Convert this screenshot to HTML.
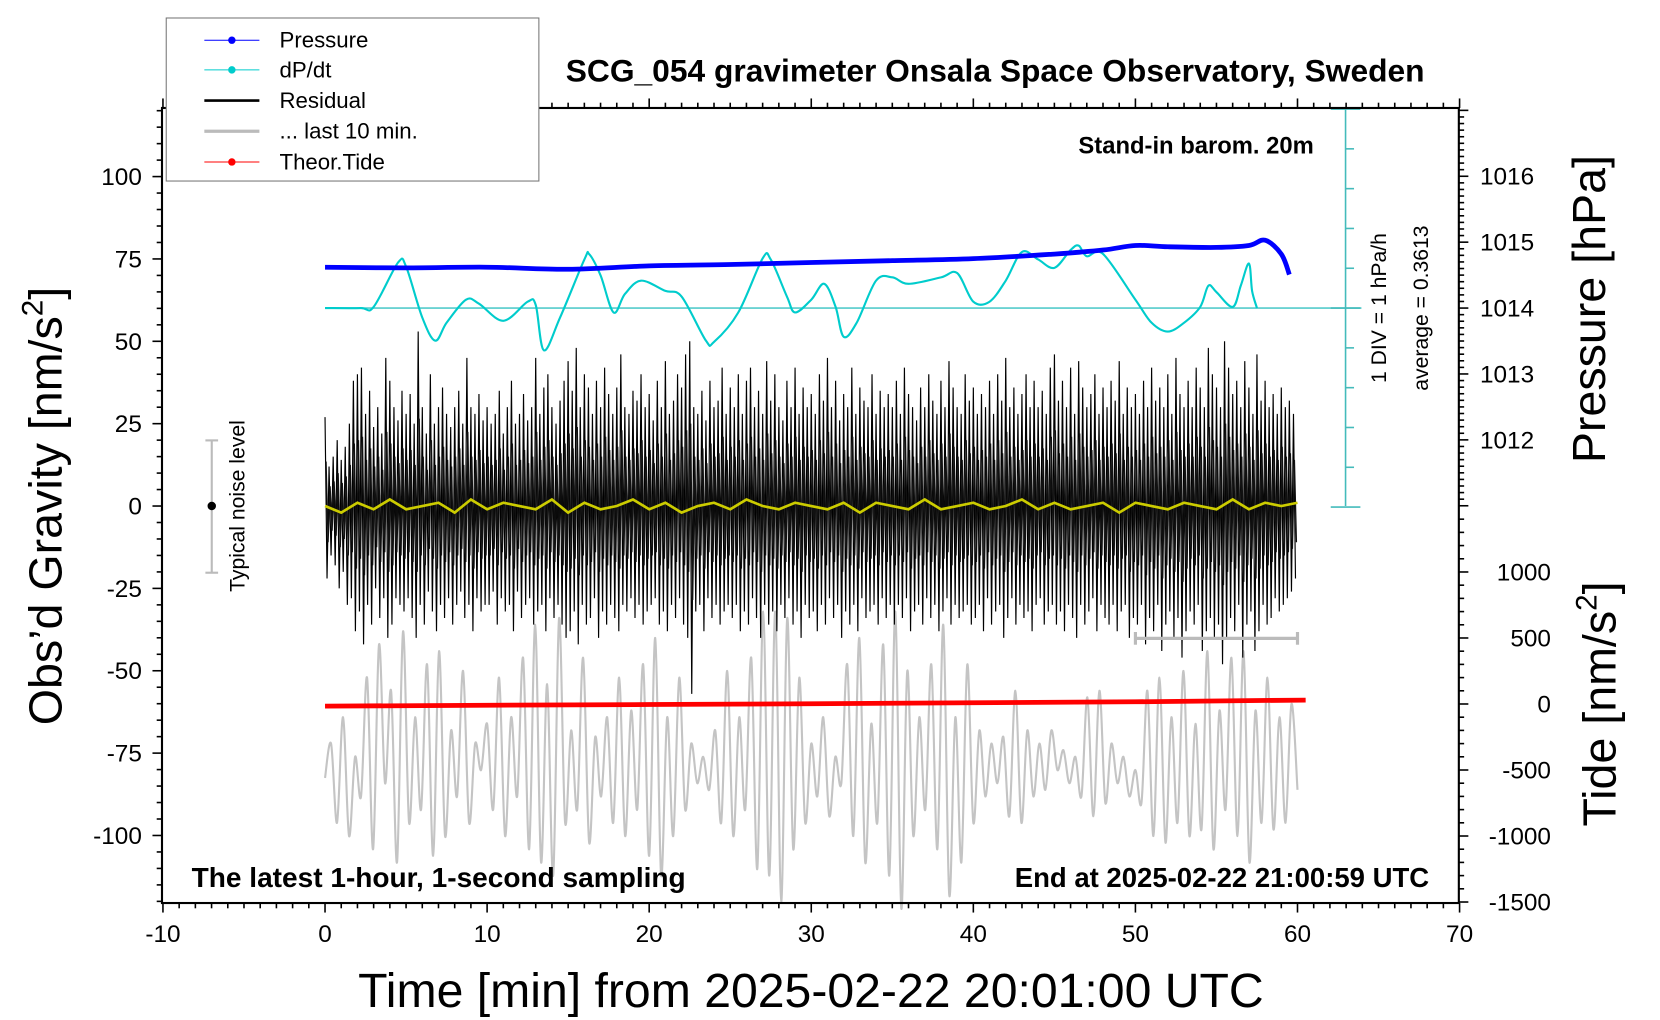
<!DOCTYPE html>
<html><head><meta charset="utf-8"><style>
html,body{margin:0;padding:0;background:#fff;}
svg{display:block;font-family:"Liberation Sans",Arial,sans-serif;}
</style></head><body>
<svg id="chart" width="1660" height="1020" viewBox="0 0 1568 963.5" xmlns="http://www.w3.org/2000/svg">
<rect x="0" y="0" width="1568" height="963.5" fill="#fff"/>
<g id="marks"></g>
<rect x="153" y="102" width="1225" height="751" fill="none" stroke="#000" stroke-width="2"/>
<g id="ticks"></g>
<text x="940" y="77" font-size="30" font-weight="bold" text-anchor="middle">SCG_054 gravimeter Onsala Space Observatory, Sweden</text>
<text x="1241" y="145" font-size="22.5" font-weight="bold" text-anchor="end">Stand-in barom. 20m</text>
<text x="181" y="838" font-size="26.5" font-weight="bold">The latest 1-hour, 1-second sampling</text>
<text x="1350" y="838" font-size="26" font-weight="bold" text-anchor="end">End at 2025-02-22 21:00:59 UTC</text>
<text x="766" y="951" font-size="45.5" text-anchor="middle">Time [min] from 2025-02-22 20:01:00 UTC</text>
<text transform="translate(58,478) rotate(-90)" font-size="44" text-anchor="middle">Obs’d Gravity [nm/s<tspan font-size="28" dy="-18">2</tspan><tspan dy="18">]</tspan></text>
<text transform="translate(1516,292) rotate(-90)" font-size="44" text-anchor="middle">Pressure [hPa]</text>
<text transform="translate(1526,665) rotate(-90)" font-size="44" text-anchor="middle">Tide [nm/s<tspan font-size="28" dy="-18">2</tspan><tspan dy="18">]</tspan></text>
<text transform="translate(1309,291) rotate(-90)" font-size="20" text-anchor="middle">1 DIV = 1 hPa/h</text>
<text transform="translate(1349,291) rotate(-90)" font-size="20" text-anchor="middle">average = 0.3613</text>
<g>
<line x1="200" y1="416" x2="200" y2="541" stroke="#bbb" stroke-width="2"/>
<line x1="194" y1="416" x2="206" y2="416" stroke="#bbb" stroke-width="2"/>
<line x1="194" y1="541" x2="206" y2="541" stroke="#bbb" stroke-width="2"/>
<circle cx="200" cy="478" r="4" fill="#000"/>
<text transform="translate(231,478) rotate(-90)" font-size="20" text-anchor="middle">Typical noise level</text>
</g>
<g>
<rect x="157" y="17" width="352" height="154" fill="#fff" stroke="#777" stroke-width="1"/>
<g><line x1="193" y1="38" x2="245" y2="38" stroke="#00f" stroke-width="1"/><circle cx="219" cy="38" r="3.5" fill="#00f"/><text x="264" y="45" font-size="21">Pressure</text></g>
<g><line x1="193" y1="66" x2="245" y2="66" stroke="#0cc" stroke-width="1"/><circle cx="219" cy="66" r="3.5" fill="#0cc"/><text x="264" y="73" font-size="21">dP/dt</text></g>
<g><line x1="193" y1="95" x2="245" y2="95" stroke="#000" stroke-width="2.5"/><text x="264" y="102" font-size="21">Residual</text></g>
<g><line x1="193" y1="124" x2="245" y2="124" stroke="#bbb" stroke-width="3"/><text x="264" y="131" font-size="21">... last 10 min.</text></g>
<g><line x1="193" y1="153" x2="245" y2="153" stroke="#f00" stroke-width="1"/><circle cx="219" cy="153" r="3.5" fill="#f00"/><text x="264" y="160" font-size="21">Theor.Tide</text></g>
</g>
</svg>
<script>
const xTicks=[-10,0,10,20,30,40,50,60,70];
const gravTicks=[-100,-75,-50,-25,0,25,50,75,100];
const presTicks=[1012,1013,1014,1015,1016];
const tideTicks=[-1500,-1000,-500,0,500,1000];
const resHi=[27,12,15,20,14,18,25,38,40,42,28,35,24,30,22,45,38,30,26,35,
28,34,25,53,30,22,40,25,30,36,28,24,30,35,25,45,30,28,34,26,
30,25,28,35,22,30,38,25,28,34,26,30,45,28,36,40,30,25,32,38,
44,35,48,30,40,36,28,38,30,42,34,28,36,46,30,28,35,32,40,30,
34,26,38,30,44,28,32,40,36,46,50,30,28,35,26,38,30,32,42,28,
36,30,40,28,38,42,30,35,28,44,32,40,30,26,38,30,42,28,36,30,
34,28,40,32,45,30,38,26,34,30,42,28,36,32,30,40,28,35,30,34,
30,38,28,42,34,30,26,36,30,40,32,28,38,30,44,36,30,28,40,32,
36,28,34,30,38,28,40,32,45,30,36,28,34,40,30,38,30,35,28,42,
46,32,38,30,42,28,44,36,30,34,40,28,36,30,38,32,44,28,36,30,
34,28,38,30,42,32,36,30,40,28,45,34,30,38,30,42,36,30,48,40,
36,30,50,42,34,38,30,44,36,28,46,32,38,30,34,28,36,30,32,28];
const resLo=[-22,-15,-18,-25,-20,-30,-28,-38,-32,-42,-30,-36,-25,-34,-28,-40,-36,-28,-30,-32,
-28,-34,-40,-30,-36,-26,-32,-38,-30,-34,-28,-36,-30,-26,-34,-30,-38,-28,-32,-30,
-30,-26,-36,-28,-32,-30,-38,-26,-34,-30,-28,-36,-32,-30,-38,-28,-34,-30,-36,-40,
-38,-32,-42,-30,-36,-34,-28,-40,-32,-36,-30,-34,-38,-30,-32,-28,-34,-30,-36,-32,
-30,-28,-36,-32,-38,-30,-34,-28,-36,-40,-57,-32,-30,-38,-28,-34,-30,-36,-32,-30,
-34,-30,-38,-32,-36,-28,-34,-40,-30,-36,-32,-38,-30,-34,-28,-36,-32,-40,-30,-34,
-32,-38,-30,-36,-28,-34,-30,-40,-32,-36,-30,-38,-28,-34,-32,-30,-36,-28,-34,-30,
-36,-30,-34,-28,-38,-32,-30,-36,-28,-34,-30,-38,-32,-28,-36,-30,-34,-32,-30,-36,
-34,-30,-38,-28,-36,-32,-30,-40,-34,-28,-36,-30,-34,-32,-38,-30,-28,-36,-32,-30,
-36,-32,-38,-30,-34,-40,-30,-36,-32,-28,-38,-30,-34,-36,-30,-38,-32,-30,-40,-34,
-36,-30,-42,-34,-38,-30,-44,-36,-32,-40,-34,-46,-38,-32,-36,-30,-44,-38,-34,-40,
-36,-48,-40,-34,-38,-30,-46,-36,-32,-44,-38,-30,-36,-34,-28,-32,-30,-28,-26,-22];
const smoothVals=[0,-2,1,-1,2,-1,0,1,-2,2,-1,1,0,-1,2,-2,1,-1,0,2,-1,1,-2,0,1,-1,2,0,-1,1,0,-1,1,-2,1,0,-1,2,-1,0,1,-1,0,2,-1,1,-1,0,1,-2,1,0,-1,1,0,-1,2,-1,1,0,1];
const grayVals=[-560,-300,-900,-100,-1000,-400,-700,200,-1100,450,-600,100,-1200,550,-900,-100,-800,300,-1150,400,-1000,-200,-700,250,-900,-300,-500,-150,-800,200,-1000,-100,-700,350,-1100,600,-1200,150,-1300,650,-900,-200,-800,350,-1050,-250,-700,-100,-900,200,-1000,-50,-800,300,-1150,500,-1300,-100,-1000,200,-800,-300,-600,-400,-650,-200,-900,250,-1000,-100,-800,350,-1250,700,-1300,700,-1500,650,-1100,200,-900,-300,-700,-100,-850,-400,-600,300,-1000,500,-1200,-150,-900,450,-1300,700,-1550,250,-1000,-100,-800,300,-1100,600,-1450,-100,-1200,300,-900,-200,-700,-300,-600,-250,-850,100,-900,-200,-700,-300,-650,-200,-500,-350,-600,-400,-700,50,-850,100,-750,-300,-600,-400,-700,-500,-750,100,-1000,200,-1050,-100,-900,250,-1000,-150,-950,400,-1100,-50,-800,350,-1000,400,-1200,-50,-900,200,-950,-100,-900,0,-650];
const presMin=[0,5,10,15,20,25,30,35,40,45,48,50,52,55,57,58,59,59.5];
const presVals=[1014.62,1014.61,1014.62,1014.59,1014.64,1014.66,1014.69,1014.72,1014.75,1014.82,1014.88,1014.95,1014.93,1014.92,1014.95,1015.03,1014.82,1014.51];
const dpMin=[0,2.2,3,4.5,5,6,6.8,7.5,8.7,9.5,11,12.5,13,13.5,14.5,16,16.3,17,17.8,18.5,19.5,21,22,23.5,24,25.5,27,27.5,28.5,29,30,30.8,31.5,32,32.8,34,35,36,38,39,40,41,42,43,44,45,46,46.5,47,48,50,51,52,53,54,54.5,55,56,56.5,57,57.2,57.5];
const dpVals=[0,0,0.03,1.14,1.04,-0.24,-0.82,-0.37,0.21,0.11,-0.32,0.16,0.08,-1.06,-0.24,1.22,1.35,0.82,-0.11,0.35,0.69,0.43,0.29,-0.82,-0.85,-0.11,1.25,1.22,0.29,-0.11,0.21,0.61,0.03,-0.72,-0.37,0.69,0.77,0.61,0.77,0.88,0.16,0.16,0.69,1.41,1.22,1.01,1.46,1.57,1.30,1.36,0.21,-0.37,-0.59,-0.37,0.03,0.56,0.40,0.03,0.56,1.12,0.43,0];
const tideMin=[0,10,20,30,40,50,60.5];
const tideVals=[-16,-10,-4,2,10,17,30];

const NS='http://www.w3.org/2000/svg';
const xs=m=>307+m*15.31;
const yG=v=>478-v*3.112;
const yP=p=>291-(p-1014)*62.25;
const yT=t=>665-t*0.1247;
const yD=d=>291-d*37.6;
const marks=document.getElementById('marks');
const ticks=document.getElementById('ticks');
function mk(tag,attrs,parent){const e=document.createElementNS(NS,tag);for(const k in attrs)e.setAttribute(k,attrs[k]);(parent||marks).appendChild(e);return e;}
function pts(xa,ya){return xa.map((x,i)=>x.toFixed(1)+','+ya[i].toFixed(1)).join(' ');}
function smoothPath(xa,ya){
 let d='M'+xa[0].toFixed(1)+','+ya[0].toFixed(1);
 for(let i=0;i<xa.length-1;i++){
  const x0=xa[Math.max(i-1,0)],y0=ya[Math.max(i-1,0)],x1=xa[i],y1=ya[i],x2=xa[i+1],y2=ya[i+1],x3=xa[Math.min(i+2,xa.length-1)],y3=ya[Math.min(i+2,xa.length-1)];
  const c1x=x1+(x2-x0)/6,c1y=y1+(y2-y0)/6,c2x=x2-(x3-x1)/6,c2y=y2-(y3-y1)/6;
  d+=' C'+c1x.toFixed(1)+','+c1y.toFixed(1)+' '+c2x.toFixed(1)+','+c2y.toFixed(1)+' '+x2.toFixed(1)+','+y2.toFixed(1);
 }
 return d;
}

// gray last-10-min curve
let gx=grayVals.map((v,i)=>xs(i*60/(grayVals.length-1)));
let gl=mk('path',{d:smoothPath(gx,grayVals.map(yT)),fill:'none',stroke:'#c4c4c4','stroke-width':2});


// residual
let rx=[],ry=[];
for(let i=0;i<resHi.length;i++){const m=i*60/resHi.length;rx.push(xs(m));ry.push(yG(resHi[i]));rx.push(xs(m+60/resHi.length/2));ry.push(yG(resLo[i]));}
let rl=mk('polyline',{points:pts(rx,ry),fill:'none',stroke:'#000','stroke-width':1.1});


// dense core of residual
let cx=[],cy=[];
for(let i=0;i<resHi.length;i++){const m=i*60/resHi.length;cx.push(xs(m+60/resHi.length/4));cy.push(yG(resHi[i]*0.5));cx.push(xs(m+60/resHi.length*0.75));cy.push(yG(resLo[i]*0.5));}
let cl=mk('polyline',{points:pts(cx,cy),fill:'none',stroke:'#111','stroke-width':1.2});


// smoothed yellow
let sl=mk('polyline',{points:pts(smoothVals.map((v,i)=>xs(i*60/(smoothVals.length-1))),smoothVals.map(yG)),fill:'none',stroke:'#cc0','stroke-width':2.5});


// tide
let tl=mk('polyline',{points:pts(tideMin.map(xs),tideVals.map(yT)),fill:'none',stroke:'#f00','stroke-width':4.5});


// dpdt baseline and scale bar
let bl=mk('line',{x1:307,y1:yD(0),x2:1286,y2:yD(0),stroke:'#5cc','stroke-width':1.5});


let sb=mk('g',{});


mk('line',{x1:1271,y1:102,x2:1271,y2:478,stroke:'#4bb','stroke-width':1.5},sb);
for(let k=-5;k<=5;k++){const y=yD(k);const w=(k===-5||k===0||k===5)?14:8;mk('line',{x1:(k===5||k===-5||k===0)?1257:1271,y1:y,x2:1271+w,y2:y,stroke:'#4bb','stroke-width':1.5},sb);}
// dpdt
let dl=mk('path',{d:smoothPath(dpMin.map(xs),dpVals.map(yD)),fill:'none',stroke:'#0cc','stroke-width':2});


// pressure
let pl=mk('path',{d:smoothPath(presMin.map(xs),presVals.map(yP)),fill:'none',stroke:'#00f','stroke-width':4.5});


// last 10 min bracket
let br=mk('g',{stroke:'#bbb','stroke-width':3});


mk('line',{x1:xs(50),y1:603,x2:xs(60),y2:603},br);
mk('line',{x1:xs(50),y1:597,x2:xs(50),y2:609},br);
mk('line',{x1:xs(60),y1:597,x2:xs(60),y2:609},br);

// axes ticks
const TK={stroke:'#000','stroke-width':1.5};
for(let m=-10;m<=70;m++){const x=xs(m);const L=(m%10===0)?9:5;
 mk('line',Object.assign({x1:x,y1:853,x2:x,y2:853+L},TK),ticks);
 mk('line',Object.assign({x1:x,y1:102,x2:x,y2:102-L},TK),ticks);}
xTicks.forEach(m=>{const t=mk('text',{x:xs(m),y:890,'font-size':23,'text-anchor':'middle'},ticks);t.textContent=m;
 
 });
for(let v=-120;v<=120;v+=5){const y=yG(v);const L=(v%25===0)?9:5;mk('line',Object.assign({x1:153,y1:y,x2:153-L,y2:y},TK),ticks);}
gravTicks.forEach(v=>{const t=mk('text',{x:134,y:yG(v)+8,'font-size':23,'text-anchor':'end'},ticks);t.textContent=v;
 
 });
for(let i=0;i<=60;i++){const p=1011+i*0.1;const y=yP(p);if(y<102)break;const L=(i%10===0)?9:5;mk('line',Object.assign({x1:1378,y1:y,x2:1378+L,y2:y},TK),ticks);}
presTicks.forEach(p=>{const t=mk('text',{x:1398,y:yP(p)+8,'font-size':23},ticks);t.textContent=p;
 
 });
for(let v=-1500;v<=1400;v+=100){const y=yT(v);const L=(v%500===0)?9:5;mk('line',Object.assign({x1:1378,y1:y,x2:1378+L,y2:y},TK),ticks);}
tideTicks.forEach(v=>{const t=mk('text',{x:1465,y:yT(v)+8,'font-size':23,'text-anchor':'end'},ticks);t.textContent=v;
 
 });
</script>
</body></html>
